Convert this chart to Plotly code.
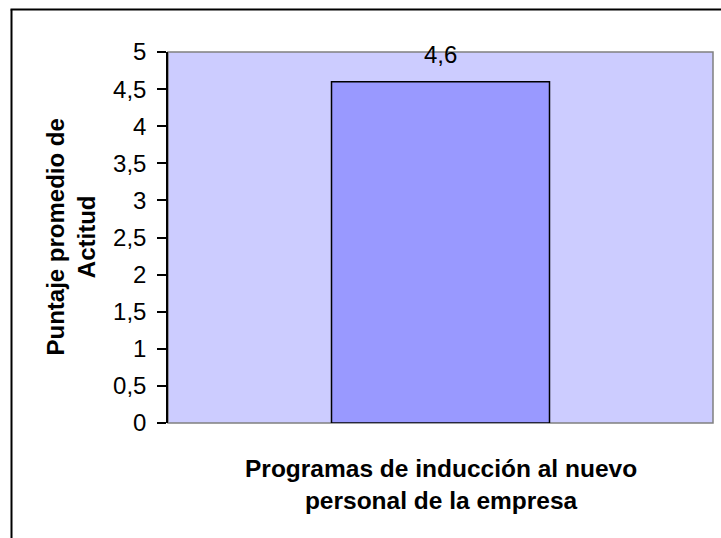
import plotly.graph_objects as go

# Data
categorias = ["Programas de inducción al nuevo personal de la empresa"]
puntajes = [4.6]
etiquetas = ["4,6"]

titulo_y = "Puntaje promedio de<br>Actitud"
titulo_x = "Programas de inducción al nuevo<br>personal de la empresa"

FONT = "Liberation Sans, Arial, sans-serif"
W, H = 721, 538
ML, MR, MT, MB = 168, 8, 52, 115
PW, PH = W - ML - MR, H - MT - MB


def px_x(px):
    return (px - ML) / PW


def px_y(py):
    return (H - MB - py) / PH


fig = go.Figure()
fig.add_trace(go.Bar(
    x=categorias,
    y=puntajes,
    marker=dict(color="#9999ff", line=dict(color="#000000", width=1.5)),
    hoverinfo="skip",
))

# value labels above the bars
for c, v, t in zip(categorias, puntajes, etiquetas):
    fig.add_annotation(x=c, y=v, text=t, showarrow=False, yanchor="middle",
                       yshift=27, font=dict(family=FONT, size=24, color="#000000"))

# axis titles
fig.add_annotation(xref="paper", yref="paper", x=px_x(70), y=0.5, text=titulo_y,
                   textangle=-90, showarrow=False, xanchor="center", yanchor="middle",
                   font=dict(family=FONT, size=24, color="#000000", weight="bold"))
fig.add_annotation(xref="paper", yref="paper", x=0.5, y=px_y(484), text=titulo_x,
                   showarrow=False, xanchor="center", yanchor="middle",
                   font=dict(family=FONT, size=24.5, color="#000000", weight="bold"))

# plot area frame and outer chart border
fig.add_shape(type="rect", xref="paper", yref="paper", x0=0, x1=1, y0=0, y1=1,
              fillcolor="#ccccff", line=dict(color="#808080", width=1.5), layer="below")
fig.add_shape(type="line", xref="paper", yref="paper",
              x0=px_x(11.5), x1=px_x(11.5), y0=px_y(560), y1=px_y(9.5),
              line=dict(color="#000000", width=2))
fig.add_shape(type="line", xref="paper", yref="paper",
              x0=px_x(10.5), x1=px_x(740), y0=px_y(9.5), y1=px_y(9.5),
              line=dict(color="#000000", width=2))

fig.update_layout(
    width=W, height=H,
    margin=dict(l=ML, r=MR, t=MT, b=MB, pad=0),
    paper_bgcolor="#ffffff",
    plot_bgcolor="#ccccff",
    separators=",.",
    bargap=0.6,
    showlegend=False,
    font=dict(family=FONT, size=24, color="#000000"),
)
fig.update_xaxes(showticklabels=False, showgrid=False, zeroline=False, showline=False, ticks="")
fig.update_yaxes(range=[0, 5], dtick=0.5, tick0=0, showgrid=False, zeroline=False,
                 showline=True, linecolor="#000000", linewidth=1.5,
                 ticks="outside", ticklen=9, tickwidth=1.5, tickcolor="#000000",
                 ticklabelstandoff=6,
                 tickfont=dict(family=FONT, size=24, color="#000000"))

fig.write_html("out.html")
